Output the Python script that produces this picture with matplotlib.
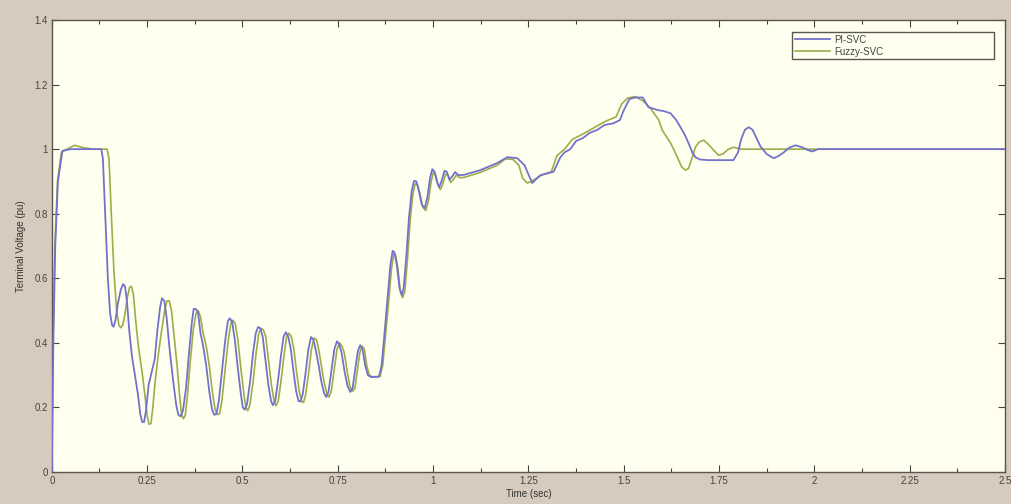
import matplotlib
matplotlib.use("Agg")
import matplotlib.pyplot as plt
import numpy as np

# Datos (tiempo en s, tension en pu)
t_pi = [0, 0.004, 0.009, 0.016, 0.028, 0.05, 0.13, 0.134, 0.14, 0.147, 0.153, 0.158,
        0.162, 0.167, 0.173, 0.181, 0.187, 0.192, 0.197, 0.203, 0.210, 0.218, 0.226,
        0.232, 0.237, 0.242, 0.247, 0.254, 0.262, 0.270, 0.277, 0.284, 0.289, 0.295,
        0.301, 0.309, 0.318, 0.326, 0.332, 0.338, 0.344, 0.352, 0.360, 0.367, 0.372,
        0.378, 0.384, 0.390, 0.397, 0.405, 0.413, 0.420, 0.426, 0.432, 0.438, 0.446,
        0.455, 0.462, 0.467, 0.473, 0.480, 0.488, 0.496, 0.501, 0.506, 0.512, 0.520,
        0.528, 0.535, 0.541, 0.547, 0.553, 0.560, 0.568, 0.575, 0.580, 0.586, 0.593,
        0.601, 0.608, 0.614, 0.620, 0.627, 0.634, 0.641, 0.647, 0.652, 0.658, 0.666,
        0.673, 0.680, 0.686, 0.692, 0.700, 0.707, 0.714, 0.720, 0.726, 0.733, 0.741,
        0.748, 0.754, 0.760, 0.768, 0.776, 0.783, 0.789, 0.796, 0.803, 0.809, 0.815,
        0.822, 0.829, 0.837, 0.858, 0.865, 0.872, 0.880, 0.888, 0.894, 0.899, 0.905,
        0.912, 0.918, 0.923, 0.930, 0.937, 0.944, 0.950, 0.956, 0.963, 0.970, 0.978,
        0.985, 0.992, 0.998, 1.004, 1.010, 1.016, 1.022, 1.030, 1.036, 1.043, 1.050,
        1.058, 1.066, 1.08, 1.124, 1.168, 1.195, 1.221, 1.24, 1.26, 1.281, 1.30,
        1.316, 1.334, 1.345, 1.36, 1.375, 1.394, 1.41, 1.431, 1.45, 1.473, 1.49,
        1.50, 1.515, 1.53, 1.55, 1.565, 1.589, 1.605, 1.623, 1.638, 1.649, 1.66,
        1.670, 1.68, 1.688, 1.70, 1.720, 1.788, 1.80, 1.808, 1.818, 1.828, 1.838,
        1.848, 1.859, 1.875, 1.893, 1.905, 1.920, 1.935, 1.951, 1.97, 1.983, 1.995,
        2.01, 2.5]
v_pi = [0, 0.4, 0.7, 0.9, 0.995, 1.0, 1.0, 0.97, 0.80, 0.60, 0.49, 0.455,
        0.45, 0.47, 0.52, 0.565, 0.582, 0.575, 0.53, 0.44, 0.36, 0.30, 0.24,
        0.18, 0.155, 0.155, 0.19, 0.27, 0.31, 0.35, 0.44, 0.51, 0.538, 0.53,
        0.48, 0.38, 0.285, 0.21, 0.177, 0.172, 0.19, 0.26, 0.37, 0.46, 0.505,
        0.505, 0.49, 0.43, 0.39, 0.33, 0.25, 0.195, 0.177, 0.18, 0.22, 0.31,
        0.41, 0.468, 0.476, 0.465, 0.41, 0.32, 0.24, 0.20, 0.193, 0.21, 0.28,
        0.37, 0.43, 0.449, 0.445, 0.42, 0.35, 0.27, 0.22, 0.207, 0.22, 0.28,
        0.36, 0.42, 0.433, 0.42, 0.38, 0.31, 0.25, 0.22, 0.218, 0.24, 0.31,
        0.38, 0.418, 0.41, 0.38, 0.33, 0.28, 0.245, 0.232, 0.25, 0.31, 0.38,
        0.405, 0.395, 0.37, 0.31, 0.265, 0.248, 0.26, 0.32, 0.375, 0.393, 0.38,
        0.33, 0.30, 0.294, 0.295, 0.33, 0.42, 0.53, 0.64, 0.685, 0.68, 0.64,
        0.57, 0.548, 0.57, 0.67, 0.79, 0.87, 0.902, 0.90, 0.87, 0.83, 0.817,
        0.85, 0.91, 0.938, 0.93, 0.90, 0.882, 0.90, 0.933, 0.93, 0.905, 0.915,
        0.929, 0.92, 0.92, 0.935, 0.957, 0.975, 0.972, 0.95, 0.895, 0.919, 0.925,
        0.93, 0.975, 0.99, 1.0, 1.025, 1.035, 1.05, 1.06, 1.075, 1.08, 1.09,
        1.12, 1.155, 1.16, 1.16, 1.13, 1.121, 1.118, 1.111, 1.09, 1.068, 1.045,
        1.019, 0.99, 0.975, 0.968, 0.966, 0.966, 0.99, 1.03, 1.06, 1.068, 1.06,
        1.035, 1.008, 0.985, 0.972, 0.978, 0.99, 1.005, 1.012, 1.005, 0.997, 0.993,
        1.0, 1.0]

t_fuzzy = [0, 0.003, 0.008, 0.015, 0.025, 0.04, 0.06, 0.08, 0.11, 0.145, 0.150, 0.156,
           0.163, 0.170, 0.176, 0.181, 0.186, 0.192, 0.198, 0.204, 0.209, 0.214, 0.220,
           0.227, 0.236, 0.244, 0.250, 0.255, 0.260, 0.265, 0.271, 0.279, 0.287, 0.296,
           0.302, 0.308, 0.314, 0.320, 0.328, 0.335, 0.340, 0.345, 0.350, 0.356, 0.363,
           0.371, 0.378, 0.384, 0.390, 0.397, 0.405, 0.413, 0.421, 0.428, 0.434, 0.440,
           0.446, 0.454, 0.463, 0.470, 0.475, 0.481, 0.488, 0.496, 0.504, 0.509, 0.514,
           0.520, 0.528, 0.536, 0.543, 0.549, 0.555, 0.561, 0.568, 0.576, 0.583, 0.588,
           0.594, 0.601, 0.609, 0.616, 0.622, 0.628, 0.635, 0.642, 0.649, 0.655, 0.660,
           0.666, 0.674, 0.681, 0.688, 0.694, 0.700, 0.707, 0.714, 0.721, 0.727, 0.733,
           0.740, 0.748, 0.755, 0.761, 0.767, 0.775, 0.782, 0.789, 0.795, 0.802, 0.808,
           0.814, 0.820, 0.826, 0.833, 0.840, 0.861, 0.868, 0.875, 0.883, 0.891, 0.897,
           0.902, 0.908, 0.914, 0.920, 0.926, 0.933, 0.940, 0.947, 0.953, 0.959, 0.966,
           0.973, 0.981, 0.988, 0.995, 1.001, 1.007, 1.013, 1.019, 1.025, 1.033, 1.039,
           1.046, 1.053, 1.061, 1.069, 1.08, 1.124, 1.168, 1.19, 1.21, 1.225, 1.235,
           1.247, 1.265, 1.285, 1.31, 1.325, 1.345, 1.365, 1.39, 1.42, 1.45, 1.48,
           1.495, 1.51, 1.53, 1.55, 1.57, 1.592, 1.601, 1.623, 1.641, 1.652, 1.662,
           1.670, 1.68, 1.688, 1.698, 1.710, 1.722, 1.736, 1.749, 1.760, 1.775, 1.788,
           1.80, 1.81, 2.5]
v_fuzzy = [0, 0.4, 0.7, 0.9, 0.99, 1.0, 1.012, 1.005, 1.0, 1.0, 0.97, 0.80,
           0.62, 0.50, 0.455, 0.447, 0.455, 0.49, 0.54, 0.572, 0.575, 0.55, 0.47,
           0.39, 0.316, 0.24, 0.175, 0.148, 0.15, 0.20, 0.28, 0.36, 0.43, 0.50,
           0.53, 0.53, 0.50, 0.43, 0.337, 0.24, 0.18, 0.165, 0.175, 0.24, 0.34,
           0.44, 0.49, 0.50, 0.48, 0.43, 0.39, 0.33, 0.25, 0.195, 0.178, 0.18,
           0.22, 0.31, 0.41, 0.462, 0.47, 0.46, 0.41, 0.32, 0.24, 0.20, 0.19,
           0.21, 0.28, 0.37, 0.43, 0.445, 0.44, 0.42, 0.35, 0.27, 0.22, 0.205,
           0.22, 0.28, 0.36, 0.42, 0.43, 0.42, 0.38, 0.31, 0.25, 0.22, 0.215,
           0.24, 0.31, 0.38, 0.415, 0.41, 0.38, 0.33, 0.28, 0.245, 0.232, 0.25,
           0.31, 0.38, 0.40, 0.39, 0.37, 0.31, 0.265, 0.25, 0.26, 0.32, 0.37,
           0.39, 0.38, 0.33, 0.30, 0.295, 0.296, 0.33, 0.42, 0.52, 0.63, 0.675,
           0.67, 0.63, 0.56, 0.54, 0.56, 0.66, 0.78, 0.86, 0.893, 0.89, 0.86,
           0.82, 0.81, 0.84, 0.90, 0.928, 0.92, 0.89, 0.875, 0.89, 0.923, 0.92,
           0.897, 0.905, 0.92, 0.912, 0.912, 0.928, 0.95, 0.97, 0.968, 0.95, 0.91,
           0.895, 0.905, 0.92, 0.93, 0.98, 1.0, 1.03, 1.045, 1.065, 1.085, 1.10,
           1.14, 1.158, 1.163, 1.15, 1.127, 1.09, 1.059, 1.019, 0.975, 0.945, 0.935,
           0.94, 0.975, 1.006, 1.022, 1.028, 1.015, 0.997, 0.981, 0.985, 1.0, 1.006,
           1.002, 1.0, 1.0]

xticks = [0, 0.25, 0.5, 0.75, 1, 1.25, 1.5, 1.75, 2, 2.25, 2.5]
xtick_labels = ['0', '0.25', '0.5', '0.75', '1', '1.25', '1.5', '1.75', '2', '2.25', '2.5']
yticks = [0, 0.2, 0.4, 0.6, 0.8, 1.0, 1.2, 1.4]
ytick_labels = ['0', '0.2', '0.4', '0.6', '0.8', '1', '1.2', '1.4']

plt.rcParams['font.family'] = ['Liberation Sans', 'DejaVu Sans']

fig = plt.figure(figsize=(10.12, 5.04), dpi=100, facecolor='#d6cbbc')
ax = fig.add_axes([0.0512, 0.0635, 0.9418, 0.8968])
ax.set_facecolor('#fffff0')

ax.plot(t_fuzzy, v_fuzzy, color='#9cad4a', lw=1.2, label='Fuzzy-SVC', zorder=2)
ax.plot(t_pi, v_pi, color='#7272cc', lw=1.3, label='PI-SVC', zorder=3)

ax.set_xlim(0, 2.5)
ax.set_ylim(0, 1.4)
ax.set_xticks(xticks)
ax.set_xticklabels(xtick_labels)
ax.set_yticks(yticks)
ax.set_yticklabels(ytick_labels)
ax.set_xticks(np.arange(0.125, 2.5, 0.25), minor=True)
ax.tick_params(which='both', direction='in', top=True, right=True,
               labelsize=7, colors='#444444', pad=3)
ax.tick_params(which='major', length=5, width=0.8)
ax.tick_params(which='minor', length=3, width=0.8)
for s in ax.spines.values():
    s.set_color('#5a5650')
    s.set_linewidth(1.0)

ax.set_xlabel('Time (sec)', fontsize=7, color='#333333', labelpad=2)
ax.set_ylabel('Terminal Voltage (pu)', fontsize=7, color='#333333', labelpad=6)

# leyenda con el orden del original
h, l = ax.get_legend_handles_labels()
leg = ax.legend(h[::-1], l[::-1], loc='upper left', bbox_to_anchor=(0.772, 0.905, 0.222, 0.08),
                mode='expand', fontsize=7, handlelength=3.6, fancybox=False,
                framealpha=1, facecolor='#fffff0', edgecolor='#5a5650',
                borderpad=0.3, labelspacing=0.2, handletextpad=0.4)
leg.get_frame().set_linewidth(1.0)
for txt in leg.get_texts():
    txt.set_color('#444444')

fig.savefig('out.png', dpi=100, facecolor=fig.get_facecolor())
